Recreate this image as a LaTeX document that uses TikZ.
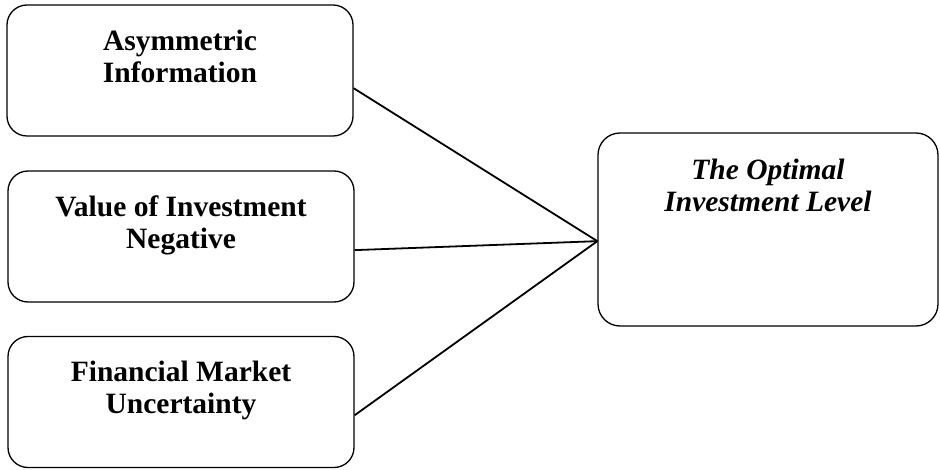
\documentclass[tikz,border=0pt]{standalone}
\usepackage{fontspec}
\setmainfont{Liberation Serif}
\usepackage{tikz}
\usetikzlibrary{positioning,calc}
\tikzset{
  factor/.style={draw, line width=1.3pt, rounded corners=20pt, minimum width=346pt, minimum height=131pt},
  outcome/.style={draw, line width=1.3pt, rounded corners=22pt, minimum width=340pt, minimum height=193pt},
  caption/.style={align=center, font=\fontsize{29.5}{32}\selectfont\bfseries, inner sep=0pt},
  link/.style={line width=1.8pt}
}

\begin{document}
\begin{tikzpicture}[x=1pt, y=1pt]
    % Frame
    \useasboundingbox (0,0) rectangle (940,469);

    % Factor boxes
    \node[factor] (asym) at (180,398.5) {};
    \node[factor] (value) at (181,232.5) {};
    \node[factor] (market) at (181,67) {};

    % Outcome box
    \node[outcome] (optimal) at (768,239.5) {};

    % Captions
    \node[caption, anchor=north] (asymtxt) at ([yshift=-25pt]asym.north) {Asymmetric\\Information};
    \node[caption, anchor=north] (valuetxt) at ([yshift=-25pt]value.north) {Value of Investment\\Negative};
    \node[caption, anchor=north] (markettxt) at ([yshift=-25pt]market.north) {Financial Market\\Uncertainty};
    \node[caption, anchor=north, font=\fontsize{29.5}{32}\selectfont\bfseries\itshape] (optimaltxt)
        at ([yshift=-26pt]optimal.north) {The Optimal\\Investment Level};

    % Links
    \coordinate (meet) at ($(optimal.south west)!0.44!(optimal.north west)$);
    \draw[link] ($(asym.south east)!0.366!(asym.north east)$) -- (meet);
    \draw[link] ($(value.south east)!0.397!(value.north east)$) -- (meet);
    \draw[link] ($(market.south east)!0.40!(market.north east)$) -- (meet);
\end{tikzpicture}
\end{document}
